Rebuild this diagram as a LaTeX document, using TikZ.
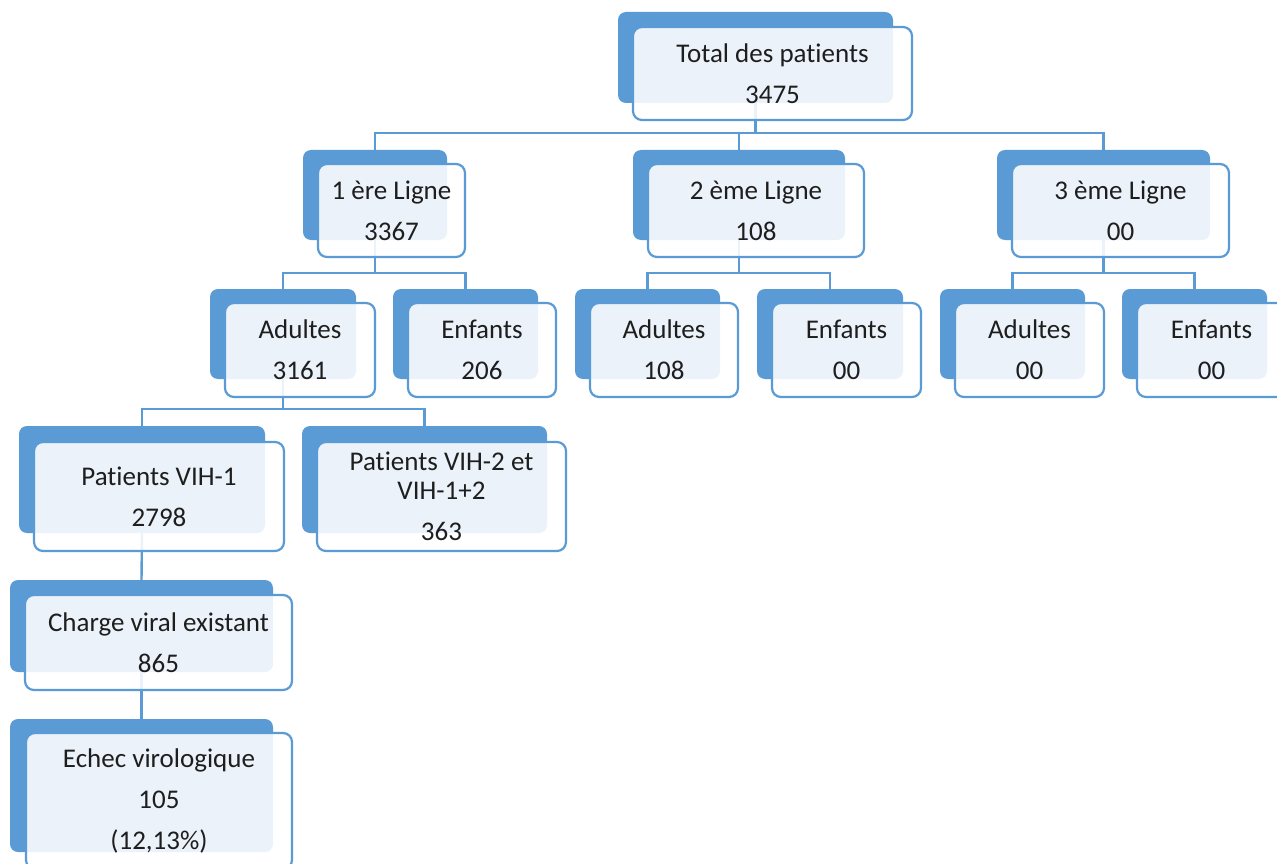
\documentclass[tikz,border=0pt]{standalone}
\usepackage{fontspec}
\setmainfont[Ligatures=NoCommon]{Carlito}
\usetikzlibrary{backgrounds}
\definecolor{bleuFond}{RGB}{91,155,213}
\definecolor{bleuTrait}{RGB}{91,155,213}
\definecolor{texteNoir}{RGB}{30,30,30}

\tikzset{
  fond/.style 2 args={fill=bleuFond, rounded corners=8pt, inner sep=0pt,
                      minimum width=#1, minimum height=#2},
  carte/.style 2 args={draw=bleuTrait, line width=2.2pt, fill=white, fill opacity=0.88,
                       text opacity=1, rounded corners=9pt, inner sep=0pt,
                       minimum width=#1, minimum height=#2, align=center,
                       text=texteNoir, font=\fontsize{27}{41}\selectfont},
  lien/.style={draw=bleuTrait, line width=2.4pt}
}

\begin{document}
\begin{tikzpicture}[x=1pt,y=-1pt]
\clip (0,0) rectangle (1277,864);

% total
\node[fond={275}{91}] (totb) at (755.5,57.5) {};
\node[carte={279}{93}] (tot) at (772.5,73.5) {Total des patients\\3475};

% lignes
\node[fond={144}{90}] (l1b) at (375,195) {};
\node[carte={147}{93}] (l1) at (391.5,210.5) {1 ère Ligne\\3367};
\node[fond={212}{90}] (l2b) at (739,195) {};
\node[carte={216}{93}] (l2) at (756,210.5) {2 ème Ligne\\108};
\node[fond={213}{90}] (l3b) at (1103.5,195) {};
\node[carte={217}{93}] (l3) at (1120.5,210.5) {3 ème Ligne\\00};

% adultes / enfants
\node[fond={146}{90}] (a1b) at (283,334) {};
\node[carte={150}{94}] (a1) at (300,350) {Adultes\\3161};
\node[fond={145}{90}] (e1b) at (465.5,334) {};
\node[carte={148}{94}] (e1) at (482,350) {Enfants\\206};
\node[fond={145}{90}] (a2b) at (647.5,334) {};
\node[carte={148}{94}] (a2) at (664,350) {Adultes\\108};
\node[fond={146}{90}] (e2b) at (830,334) {};
\node[carte={149}{94}] (e2) at (846.5,350) {Enfants\\00};
\node[fond={145}{90}] (a3b) at (1012.5,334) {};
\node[carte={149}{94}] (a3) at (1029.5,350) {Adultes\\00};
\node[fond={145}{90}] (e3b) at (1194.5,334) {};
\node[carte={149}{94}] (e3) at (1211.5,350) {Enfants\\00};

% VIH
\node[fond={246}{107}] (v1b) at (142,479.5) {};
\node[carte={250}{109}] (v1) at (159,496.5) {Patients VIH-1\\2798};
\node[fond={245}{107}] (v2b) at (424.5,479.5) {};
\node[carte={249}{109}] (v2) at (441.5,496.5) {Patients VIH-2 et\\[-12pt]VIH-1+2\\363};

% charge virale
\node[fond={263}{92}] (cvb) at (141.5,626) {};
\node[carte={267}{95}] (cv) at (158.5,642.5) {Charge viral existant\\865};
\node[fond={263}{133}] (ecb) at (141.5,785.5) {};
\node[carte={266}{136}] (ec) at (159,801) {Echec virologique\\105\\(12,13\%)};

\begin{scope}[on background layer]
\fill[white] (0,0) rectangle (1277,864);
\draw[lien] (totb.south) -- ++(0,30) -| (l1b.north);
\draw[lien] (totb.south) -- ++(0,30) -| (l2b.north);
\draw[lien] (totb.south) -- ++(0,30) -| (l3b.north);
\draw[lien] (l1b.south) -- ++(0,33) -| (a1b.north);
\draw[lien] (l1b.south) -- ++(0,33) -| (e1b.north);
\draw[lien] (l2b.south) -- ++(0,33) -| (a2b.north);
\draw[lien] (l2b.south) -- ++(0,33) -| (e2b.north);
\draw[lien] (l3b.south) -- ++(0,33) -| (a3b.north);
\draw[lien] (l3b.south) -- ++(0,33) -| (e3b.north);
\draw[lien] (a1b.south) -- ++(0,30) -| (v1b.north);
\draw[lien] (a1b.south) -- ++(0,30) -| (v2b.north);
\draw[lien] (v1b.south) -- (cvb.north);
\draw[lien] (cvb.south) -- (ecb.north);
\end{scope}
\end{tikzpicture}
\end{document}
